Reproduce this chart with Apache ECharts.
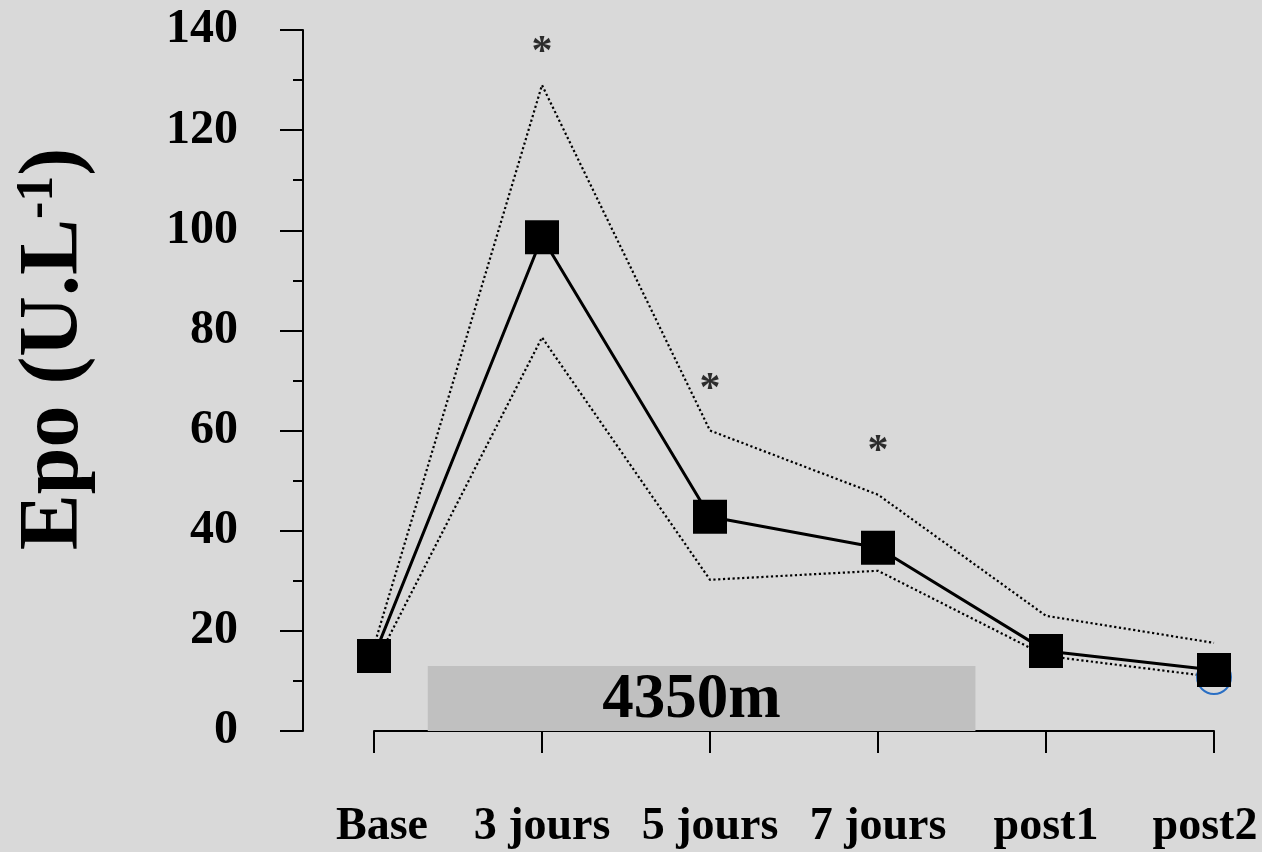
<!DOCTYPE html>
<html>
<head>
<meta charset="utf-8">
<title>Epo</title>
<script src="https://cdn.jsdelivr.net/npm/echarts@6/dist/echarts.min.js"></script>
<style>
  html, body { margin: 0; padding: 0; background: #d9d9d9; }
  #chart { width: 1262px; height: 852px; }
</style>
</head>
<body>
<div id="chart"></div>
<script>
// Time points
const categories = ['Base', '3 jours', '5 jours', '7 jours', 'post1', 'post2'];
// Epo (U.L-1): mean and upper / lower bounds
const epoMean  = [15, 98.6, 42.8, 36.6, 16, 12.2];
const epoUpper = [17, 129, 60, 47.2, 23, 17.6];
const epoLower = [13, 78.6, 30.2, 32, 15, 10.8];
// Significance marks and the height they sit at
const sigMarks  = ['', '*', '*', '*', '', ''];
const sigLevels = [null, 135.4, 68, 55.6, null, null];
// Altitude stay band: from / to (category position) and height
const altitudeText = '4350m';
const altitudeBand = [[0.32, 3.58, 13]];
// Y axis ticks
const yTicks = [0, 20, 40, 60, 80, 100, 120, 140];

const SERIF = '"Liberation Serif", "Times New Roman", serif';
const catFont = { fontFamily: SERIF, fontWeight: 'bold', fontSize: 46, color: '#000' };

const chart = echarts.init(document.getElementById('chart'), null, { renderer: 'canvas' });

chart.setOption({
  backgroundColor: '#d9d9d9',
  animation: false,
  grid: { left: 374, right: 48, top: 30, bottom: 121, containLabel: false, outerBoundsMode: 'none' },
  xAxis: [
    {
      type: 'category',
      data: categories,
      boundaryGap: false,
      axisLine: { show: true, onZero: false, lineStyle: { color: '#000', width: 2 } },
      axisTick: { show: true, length: 22, interval: 0, lineStyle: { color: '#000', width: 2 } },
      axisLabel: {
        interval: 0,
        hideOverlap: false,
        margin: 73,
        formatter: function (v, i) {
          if (i === 0) return '{first|' + v + '}';
          if (i === categories.length - 1) return '{last|' + v + '}';
          return '{c|' + v + '}';
        },
        rich: {
          c: catFont,
          first: Object.assign({ padding: [0, 0, 0, 16] }, catFont),
          last: Object.assign({ padding: [0, 18, 0, 0] }, catFont)
        },
        fontFamily: SERIF, fontWeight: 'bold', fontSize: 46, color: '#000'
      },
      splitLine: { show: false }
    },
    {
      type: 'value', min: 0, max: 5, show: false
    }
  ],
  yAxis: {
    type: 'value',
    min: yTicks[0],
    max: yTicks[yTicks.length - 1],
    interval: 20,
    offset: 71,
    axisLine: { show: true, onZero: false, lineStyle: { color: '#000', width: 2 } },
    axisTick: { show: true, length: 23, lineStyle: { color: '#000', width: 2 } },
    minorTick: { show: true, splitNumber: 2, length: 10, lineStyle: { color: '#000', width: 2 } },
    axisLabel: {
      margin: 65,
      fontFamily: SERIF, fontWeight: 'bold', fontSize: 48, color: '#000'
    },
    splitLine: { show: false }
  },
  graphic: [
    {
      type: 'text',
      x: 55, y: 349,
      rotation: Math.PI / 2,
      style: {
        text: '{m|Epo (U.L}{s|-1}{m|)}',
        align: 'center',
        verticalAlign: 'middle',
        rich: {
          m: { fontFamily: SERIF, fontWeight: 'bold', fontSize: 84, fill: '#000', lineHeight: 84 },
          s: { fontFamily: SERIF, fontWeight: 'bold', fontSize: 52, fill: '#000', lineHeight: 40, verticalAlign: 'top' }
        }
      }
    }
  ],
  series: [
    {
      // altitude stay band
      type: 'custom',
      xAxisIndex: 1,
      data: altitudeBand,
      z: 1,
      silent: true,
      renderItem: function (params, api) {
        const p0 = api.coord([api.value(0), 0]);
        const p1 = api.coord([api.value(1), api.value(2)]);
        return {
          type: 'group',
          children: [
            {
              type: 'rect',
              shape: { x: p0[0], y: p1[1], width: p1[0] - p0[0], height: p0[1] - p1[1] },
              style: { fill: '#c0c0c0' }
            },
            {
              type: 'text',
              style: {
                text: altitudeText,
                x: (p0[0] + p1[0]) / 2 - 10,
                y: (p0[1] + p1[1]) / 2 + 2,
                align: 'center',
                verticalAlign: 'middle',
                font: 'bold 63px ' + SERIF,
                fill: '#000'
              }
            }
          ]
        };
      }
    },
    {
      name: 'upper',
      type: 'line',
      data: epoUpper,
      symbol: 'none',
      z: 2,
      lineStyle: { color: '#000', width: 2.2, type: [2.2, 2.6] }
    },
    {
      name: 'lower',
      type: 'line',
      data: epoLower.map(function (v, i) {
        return i === epoLower.length - 1
          ? { value: v, symbol: 'circle', symbolSize: 34, itemStyle: { color: 'rgba(0,0,0,0)', borderColor: '#2a6fc4', borderWidth: 2 } }
          : { value: v, symbol: 'none' };
      }),
      z: 2,
      lineStyle: { color: '#000', width: 2.2, type: [2.2, 2.6] }
    },
    {
      name: 'Epo',
      type: 'line',
      data: epoMean,
      symbol: 'rect',
      symbolSize: 34,
      z: 3,
      itemStyle: { color: '#000' },
      lineStyle: { color: '#000', width: 3 }
    },
    {
      name: 'sig',
      type: 'scatter',
      data: sigLevels,
      symbolSize: 0,
      z: 4,
      label: {
        show: true,
        position: 'inside',
        formatter: function (p) { return sigMarks[p.dataIndex]; },
        fontFamily: SERIF, fontWeight: 'bold', fontSize: 42, color: '#000'
      }
    }
  ]
});
</script>
</body>
</html>
